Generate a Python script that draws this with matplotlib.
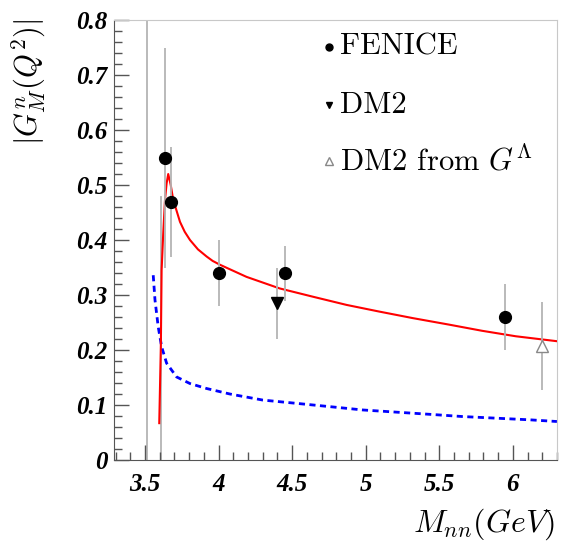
import matplotlib
matplotlib.use("Agg")
from matplotlib import pyplot as plt
from matplotlib.ticker import MultipleLocator

plt.rcParams["mathtext.fontset"] = "cm"

# FENICE points
fenX = [3.636, 3.68, 4.0, 4.45, 5.95]
fenY = [0.55, 0.47, 0.34, 0.34, 0.26]
fenErr = [0.20, 0.10, 0.06, 0.05, 0.06]

# DM2 point
dmX = [4.40]
dmY = [0.285]
dmErr = [0.065]

# DM2 from G^Lambda
dlX = [6.20]
dlY = [0.207]
dlErr = [0.08]

# red model curve
redX = [3.597, 3.608, 3.613, 3.624, 3.636, 3.647, 3.658, 3.675, 3.692, 3.738, 3.77,
        3.806, 3.86, 3.919, 3.96, 4.01, 4.19, 4.415, 4.64, 4.87, 5.09, 5.32, 5.57,
        5.79, 6.02, 6.30]
redY = [0.067, 0.21, 0.345, 0.412, 0.473, 0.503, 0.52, 0.50, 0.473, 0.433, 0.415,
        0.40, 0.383, 0.370, 0.362, 0.355, 0.333, 0.312, 0.297, 0.282, 0.27, 0.258, 0.246,
        0.235, 0.225, 0.216]

# blue dashed curve
blueX = [3.556, 3.568, 3.590, 3.613, 3.647, 3.715, 3.806, 3.919, 4.077, 4.30,
         4.53, 4.757, 4.98, 5.21, 5.44, 5.66, 5.89, 6.12, 6.30]
blueY = [0.336, 0.291, 0.242, 0.206, 0.176, 0.151, 0.139, 0.130, 0.12, 0.109,
         0.103, 0.097, 0.091, 0.087, 0.083, 0.079, 0.076, 0.073, 0.070]

# grey vertical lines: (x, top)
vlineX = [3.511, 3.607]
vlineTop = [0.8, 0.479]

fig = plt.figure(figsize=(5.62, 5.44), dpi=100)
ax = fig.add_axes([0.203, 0.1544, 0.788, 0.8088])

grey = "#b4b4b4"
for x, top in zip(vlineX, vlineTop):
    ax.plot([x, x], [0, top], color=grey, linewidth=1.3, zorder=1)

ax.plot(blueX, blueY, color="blue", linewidth=2, dashes=(2.2, 1.6), zorder=2)
ax.plot(redX, redY, color="red", linewidth=1.5, zorder=3)

ax.errorbar(fenX, fenY, yerr=fenErr, fmt="o", color="black", ecolor=grey,
            elinewidth=1.3, capsize=0, markersize=8.5, zorder=4)
ax.errorbar(dmX, dmY, yerr=dmErr, fmt="v", color="black", ecolor=grey,
            elinewidth=1.3, capsize=0, markersize=8.5, zorder=4)
ax.errorbar(dlX, dlY, yerr=dlErr, fmt="^", mfc="white", mec="#888888", ecolor=grey,
            elinewidth=1.3, capsize=0, markersize=9, zorder=4)

ax.set_xlim(3.29, 6.30)
ax.set_ylim(0, 0.8)

ax.xaxis.set_major_locator(MultipleLocator(0.5))
ax.xaxis.set_minor_locator(MultipleLocator(0.1))
ax.yaxis.set_major_locator(MultipleLocator(0.1))
ax.yaxis.set_minor_locator(MultipleLocator(0.02))
ax.set_xticks([3.5, 4, 4.5, 5, 5.5, 6])
ax.set_xticklabels(["3.5", "4", "4.5", "5", "5.5", "6"])
ax.set_yticks([0, 0.1, 0.2, 0.3, 0.4, 0.5, 0.6, 0.7, 0.8])
ax.set_yticklabels(["0", "0.1", "0.2", "0.3", "0.4", "0.5", "0.6", "0.7", "0.8"])

ax.tick_params(which="both", direction="in", top=False, right=False, color="#555555")
ax.tick_params(which="major", length=11, width=1)
ax.tick_params(which="minor", length=6, width=1)
ax.tick_params(axis="x", pad=9)
ax.tick_params(axis="y", pad=5)
for lab in ax.get_xticklabels() + ax.get_yticklabels():
    lab.set_family("Liberation Serif")
    lab.set_fontweight("bold")
    lab.set_fontstyle("italic")
    lab.set_fontsize(18)

for side in ["top", "right"]:
    ax.spines[side].set_color("#c8c8c8")
for side in ["left", "bottom"]:
    ax.spines[side].set_color("#555555")

ax.set_ylabel(r"$|G_M^n(Q^2)|$", fontsize=22)
ax.yaxis.set_label_coords(-0.15, 0.86)
ax.set_xlabel(r"$M_{nn}(GeV)$", fontsize=23)
ax.xaxis.set_label_coords(0.835, -0.105)

# legend drawn by hand
legY = [0.939, 0.807, 0.68]
legText = ["FENICE", "DM2", r"DM2 from $G^\Lambda$"]
legMark = [dict(marker="o", color="black", markersize=5),
           dict(marker="v", color="black", markersize=5),
           dict(marker="^", mfc="white", mec="#888888", markersize=5.5)]
for y, t, m in zip(legY, legText, legMark):
    ax.plot([0.485], [y], transform=ax.transAxes, linestyle="none", clip_on=False, **m)
    ax.text(0.51, y, t, transform=ax.transAxes, fontsize=22, family="cmr10",
            va="center", ha="left")

fig.savefig("out.png", dpi=100)
